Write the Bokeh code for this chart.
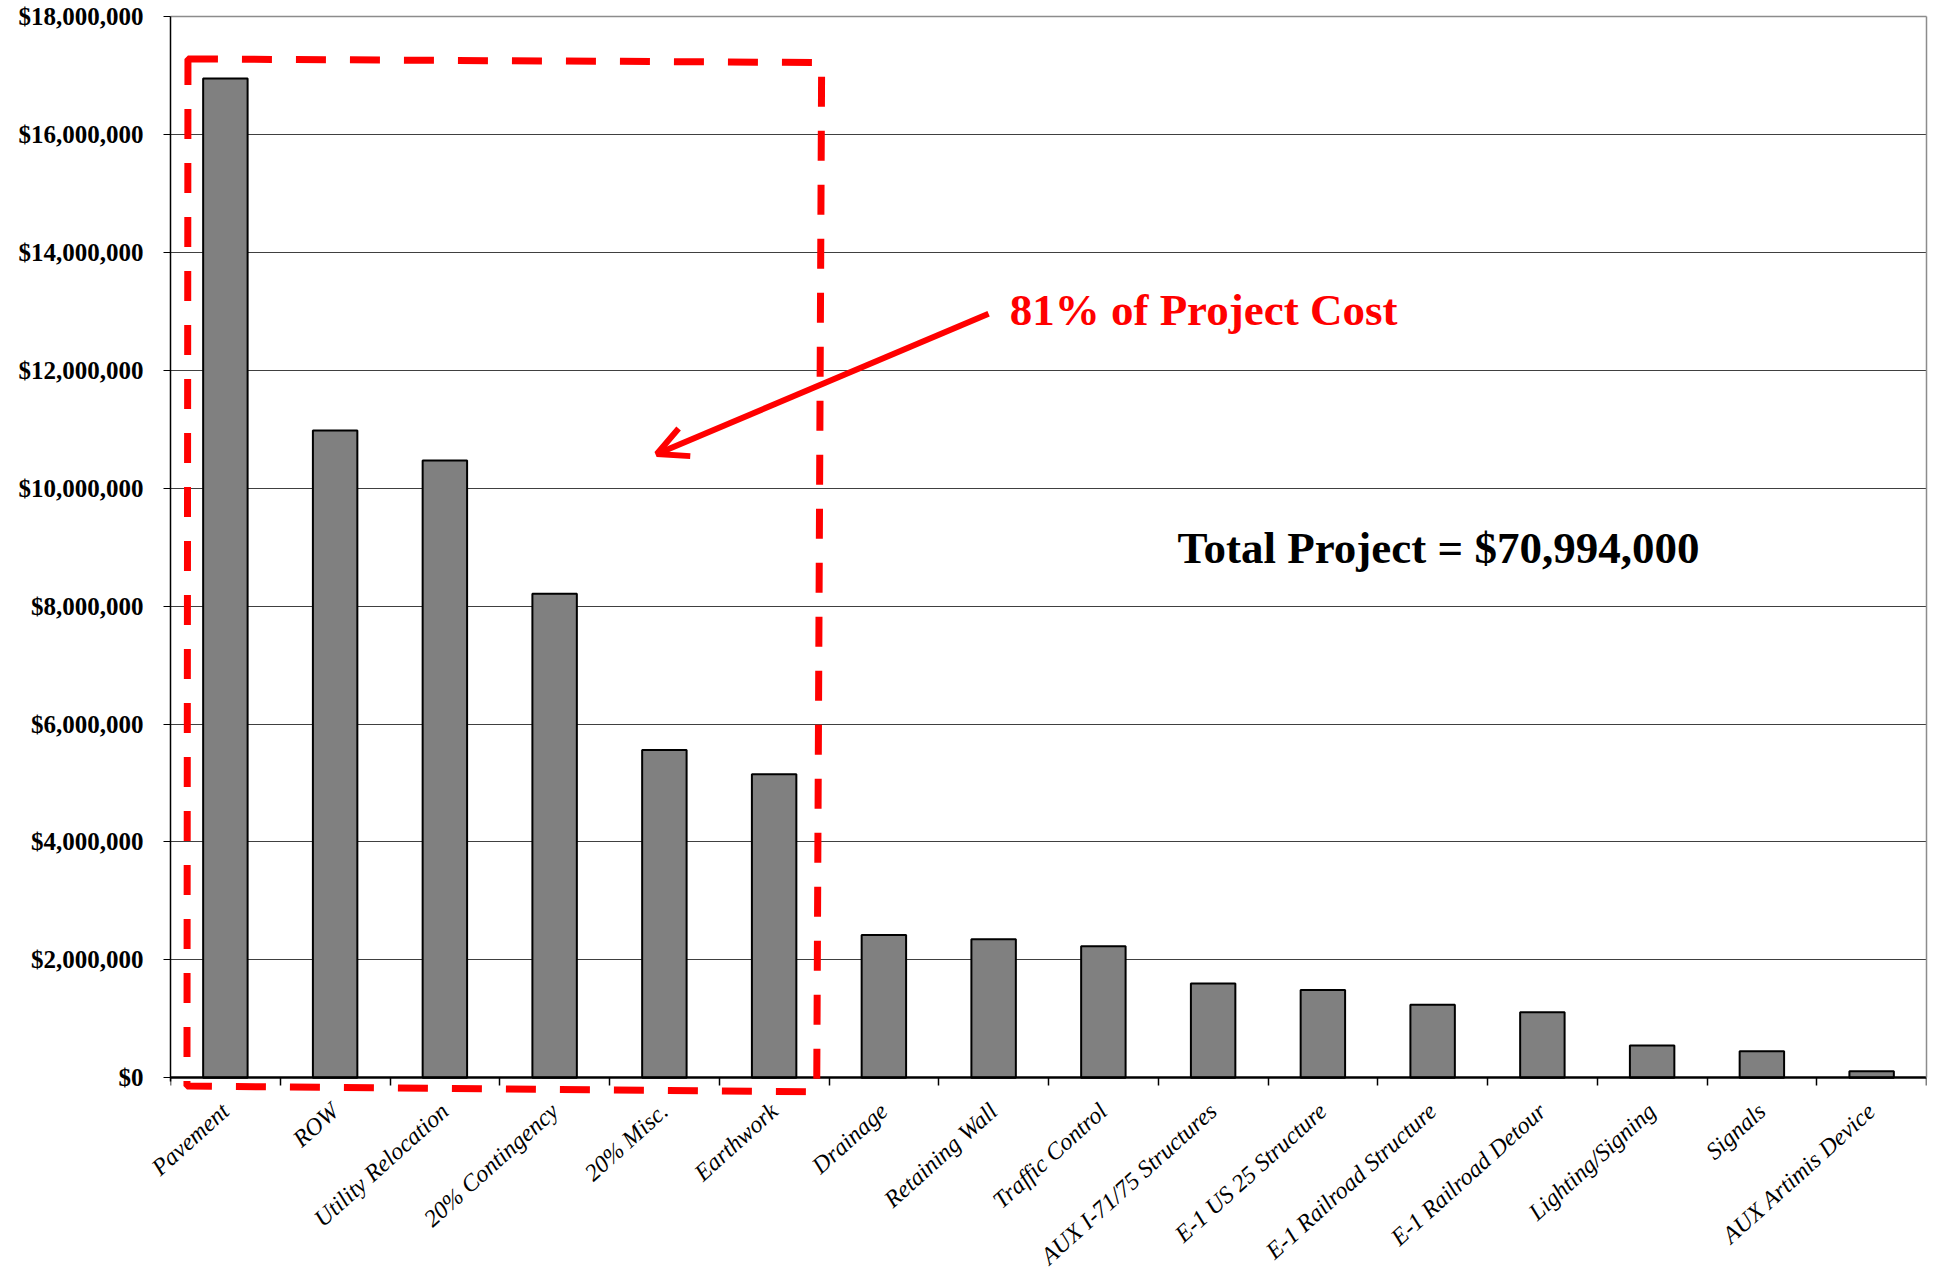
import math
from bokeh.plotting import figure
from bokeh.models import (ColumnDataSource, FixedTicker, NumeralTickFormatter, Range1d,
                          PolyAnnotation, Arrow, OpenHead, Label, LinearAxis)
from bokeh.embed import file_html
from bokeh.resources import INLINE

# ---- data ----
categories = ["Pavement", "ROW", "Utility Relocation", "20% Contingency", "20% Misc.",
              "Earthwork", "Drainage", "Retaining Wall", "Traffic Control",
              "AUX I-71/75 Structures", "E-1 US 25 Structure", "E-1 Railroad Structure",
              "E-1 Railroad Detour", "Lighting/Signing", "Signals", "AUX Artimis Device"]
costs = [16950000, 10980000, 10470000, 8210000, 5560000, 5150000,
         2420000, 2350000, 2230000, 1600000, 1490000, 1240000,
         1110000, 550000, 450000, 110000]
y_ticks = [0, 2000000, 4000000, 6000000, 8000000, 10000000, 12000000,
           14000000, 16000000, 18000000]

highlight_label = "81% of Project Cost"
total_label = "Total Project = $70,994,000"

# annotation anchors (data units)
box_xs = [-0.341, 5.433, 5.388, -0.350]
box_ys = [17280000, 17220000, -240000, -140000]
arrow_from = (6.954, 12960000)
arrow_to = (3.931, 10580000)
highlight_pos = (7.146, 13020000)
total_pos = (8.676, 8980000)

SERIF = "Liberation Serif"

xs = list(range(len(categories)))
src = ColumnDataSource(dict(x=xs, cost=costs, name=categories))

p = figure(frame_width=1756, frame_height=1079,
           x_range=Range1d(-0.5, len(categories) - 0.5),
           y_range=Range1d(-300000, 18000000),
           output_backend="svg", toolbar_location=None,
           min_border_left=170, min_border_top=16, min_border_right=10,
           min_border_bottom=150)
p.background_fill_color = "white"
p.border_fill_color = "white"
p.outline_line_color = None

p.vbar(x="x", top="cost", width=0.405, source=src,
       fill_color="#808080", line_color="black", line_width=2)

# y axis
ya = p.yaxis[0]
ya.ticker = FixedTicker(ticks=y_ticks, minor_ticks=[])
ya.formatter = NumeralTickFormatter(format="$0,0")
ya.bounds = (-60000, 18000000)
ya.major_label_text_font = SERIF
ya.major_label_text_font_style = "bold"
ya.major_label_text_font_size = "25px"
ya.major_label_text_color = "black"
ya.major_label_standoff = 20
ya.major_tick_out = 7
ya.major_tick_in = 0
ya.major_tick_line_color = "black"
ya.minor_tick_line_color = None
ya.axis_line_color = "black"
ya.axis_line_width = 1.5

# x labels: category names below the frame
xa = p.xaxis[0]
xa.ticker = FixedTicker(ticks=xs, minor_ticks=[])
xa.major_label_overrides = {i: c for i, c in zip(xs, categories)}
xa.major_label_orientation = 0.733
xa.major_label_text_font = SERIF
xa.major_label_text_font_style = "italic"
xa.major_label_text_font_size = "24px"
xa.major_label_text_color = "black"
xa.major_label_standoff = 6
xa.major_tick_line_color = None
xa.minor_tick_line_color = None
xa.axis_line_color = None

# x axis line at zero with ticks at category boundaries
x0 = LinearAxis(fixed_location=0,
                ticker=FixedTicker(ticks=[], minor_ticks=[i - 0.5 for i in range(len(categories) + 1)]),
                major_label_text_font_size="0px",
                major_tick_line_color=None,
                minor_tick_out=8, minor_tick_in=0,
                minor_tick_line_color="black", minor_tick_line_width=1.5,
                axis_line_color="black", axis_line_width=2.5)
p.add_layout(x0, "below")

# top and right frame borders
ta = LinearAxis(ticker=FixedTicker(ticks=[], minor_ticks=[]),
                axis_line_color="#8c8c8c", axis_line_width=1.5,
                major_tick_line_color=None, minor_tick_line_color=None,
                major_label_text_font_size="0px")
p.add_layout(ta, "above")
ra = LinearAxis(bounds=(0, 18000000),
                ticker=FixedTicker(ticks=[], minor_ticks=[]),
                axis_line_color="#8c8c8c", axis_line_width=1.5,
                major_tick_line_color=None, minor_tick_line_color=None,
                major_label_text_font_size="0px")
p.add_layout(ra, "right")

p.xgrid.grid_line_color = None
p.ygrid.grid_line_color = "#404040"
p.ygrid.grid_line_width = 1

# red dashed highlight box
box = PolyAnnotation(xs=box_xs, ys=box_ys, fill_alpha=0, fill_color=None,
                     line_color="#FF0000", line_alpha=1.0, line_width=7,
                     line_dash="30 24")
p.add_layout(box)

arrow = Arrow(end=OpenHead(size=30, line_color="#FF0000", line_width=6),
              x_start=arrow_from[0], y_start=arrow_from[1],
              x_end=arrow_to[0], y_end=arrow_to[1],
              line_color="#FF0000", line_width=6)
p.add_layout(arrow)

p.add_layout(Label(x=highlight_pos[0], y=highlight_pos[1], text=highlight_label,
                   text_font=SERIF, text_font_style="bold", text_font_size="45px",
                   text_color="#FF0000", text_baseline="alphabetic", text_align="left"))
p.add_layout(Label(x=total_pos[0], y=total_pos[1], text=total_label,
                   text_font=SERIF, text_font_style="bold", text_font_size="45px",
                   text_color="black", text_baseline="alphabetic", text_align="left"))

open("out.html", "w").write(file_html(p, INLINE))
